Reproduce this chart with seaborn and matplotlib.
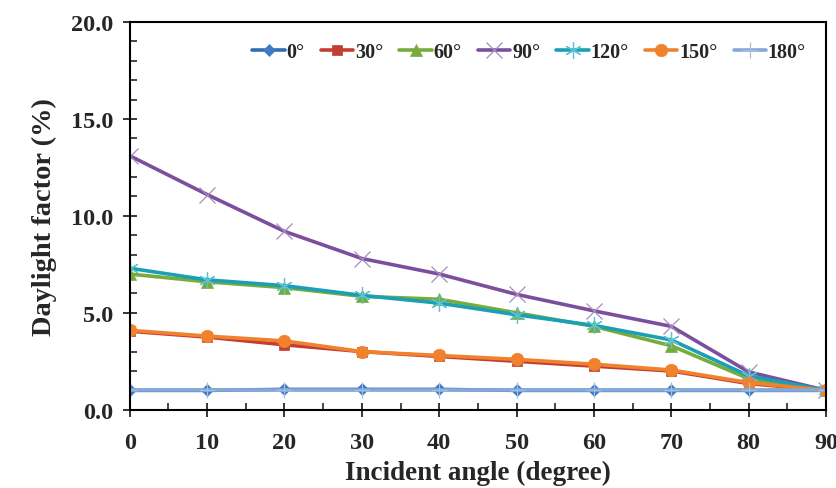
import matplotlib
matplotlib.use("Agg")
import matplotlib.pyplot as plt
import seaborn as sns
import pandas as pd
from matplotlib.ticker import MultipleLocator, FormatStrFormatter

angles = [0, 10, 20, 30, 40, 50, 60, 70, 80, 90]
labels = ["0°", "30°", "60°", "90°", "120°", "150°", "180°"]
s0 = [1.0, 1.0, 1.05, 1.05, 1.05, 1.0, 1.0, 1.0, 1.0, 1.0]
s30 = [4.05, 3.75, 3.35, 3.0, 2.75, 2.5, 2.25, 2.0, 1.35, 1.0]
s60 = [7.0, 6.6, 6.3, 5.85, 5.7, 5.0, 4.3, 3.3, 1.6, 1.0]
s90 = [13.1, 11.1, 9.2, 7.8, 7.0, 5.95, 5.1, 4.3, 1.95, 1.0]
s120 = [7.3, 6.7, 6.4, 5.9, 5.5, 4.9, 4.35, 3.6, 1.75, 1.0]
s150 = [4.1, 3.8, 3.55, 3.0, 2.8, 2.6, 2.35, 2.05, 1.4, 1.0]
s180 = [1.0, 1.0, 1.0, 1.0, 1.0, 1.0, 1.0, 1.0, 1.0, 1.0]
series = [s0, s30, s60, s90, s120, s150, s180]

colors = ["#2F6DB5", "#C43D34", "#76AC3C", "#7B4F9D", "#1A9FB5", "#F0822E", "#86A8D6"]
mcolors = ["#3D7CC4", "#C43D34", "#76AC3C", "#A58CC0", "#5CC3D3", "#F0822E", "#A3BEE2"]
markers = ["D", "s", "^", "x", (6, 2, 0), "o", "+"]
msizes = [6, 7, 8, 11, 12, 9, 12]

sns.set_theme(style="ticks")
plt.rcParams["font.family"] = ["Liberation Serif", "DejaVu Serif"]
plt.rcParams["font.weight"] = "bold"

fig = plt.figure(figsize=(8.37, 4.89), dpi=100)
ax = fig.add_axes([0.155, 0.160, 0.832, 0.793])

for lab, vals, c, mc, m, ms in zip(labels, series, colors, mcolors, markers, msizes):
    df = pd.DataFrame({"angle": angles, "df": vals})
    thin = m in ("x", "+", (6, 2, 0))
    sns.lineplot(data=df, x="angle", y="df", ax=ax, color=c, marker=m,
                 markersize=ms, linewidth=2.6, label=lab,
                 markerfacecolor=mc, markeredgecolor=mc,
                 markeredgewidth=0.9 if thin else 0.5)

ax.set_xlim(0, 90)
ax.set_ylim(0, 20)
ax.xaxis.set_major_locator(MultipleLocator(10))
ax.xaxis.set_minor_locator(MultipleLocator(5))
ax.yaxis.set_major_locator(MultipleLocator(5))
ax.yaxis.set_minor_locator(MultipleLocator(1))
ax.yaxis.set_major_formatter(FormatStrFormatter("%.1f"))
ax.tick_params(which="major", direction="inout", length=10, width=1.3, labelsize=17.5)
ax.tick_params(axis="x", which="major", pad=11)
ax.tick_params(axis="y", which="major", pad=7)
ax.tick_params(which="minor", direction="in", length=5, width=1.2)
for t in ax.get_xticklabels() + ax.get_yticklabels():
    t.set_fontweight("bold")
for sp in ax.spines.values():
    sp.set_linewidth(1.5)
    sp.set_color("black")

ax.set_xlabel("Incident angle (degree)", fontsize=19.5, fontweight="bold", labelpad=5)
ax.set_ylabel("Daylight factor (%)", fontsize=20.5, fontweight="bold", labelpad=10)

leg = ax.legend(loc="upper right", ncol=7, frameon=False, fontsize=14.5,
                handlelength=1.6, handletextpad=0.1, columnspacing=0.8,
                bbox_to_anchor=(1.0, 1.0), borderaxespad=0.6)
for t in leg.get_texts():
    t.set_fontweight("bold")

fig.savefig("out.png", dpi=100)
